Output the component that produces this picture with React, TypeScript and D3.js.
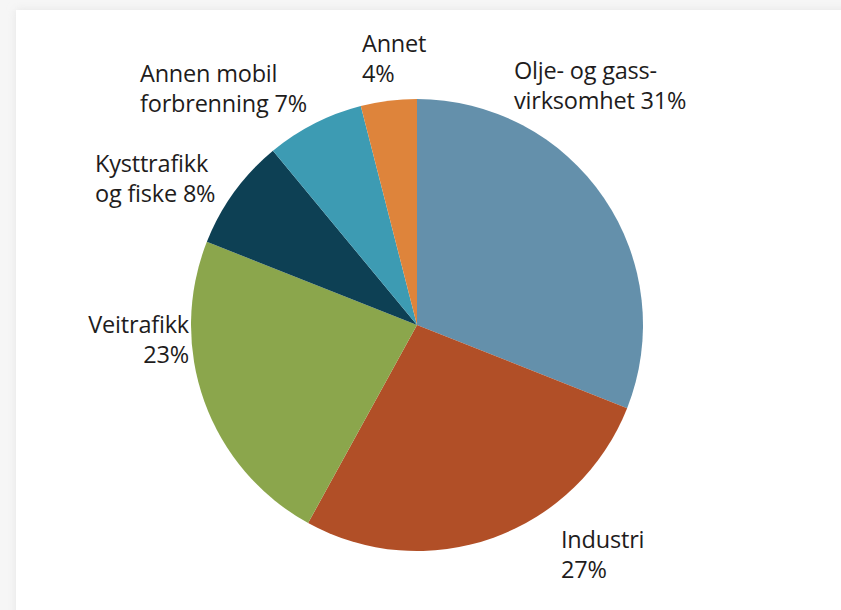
import React from "react";
import * as d3 from "d3";

// Kilder til utslipp (andel i prosent)
const categories = [
	"Olje- og gassvirksomhet",
	"Industri",
	"Veitrafikk",
	"Kysttrafikk og fiske",
	"Annen mobil forbrenning",
	"Annet",
];
const shares = [31, 27, 23, 8, 7, 4];
const colors = ["#6490ab", "#b14f27", "#8ba64c", "#0d4054", "#3d9bb3", "#de843b"];
const labelLines = [
	["Olje- og gass-", "virksomhet 31%"],
	["Industri", "27%"],
	["Veitrafikk", "23%"],
	["Kysttrafikk", "og fiske 8%"],
	["Annen mobil", "forbrenning 7%"],
	["Annet", "4%"],
];

// label placement (x, first baseline, anchor)
const labelLayout: [number, number, "start" | "end"][] = [
	[514, 79, "start"],
	[561, 548, "start"],
	[189, 333, "end"],
	[95, 172, "start"],
	[140, 82, "start"],
	[362, 52, "start"],
];

const W = 841;
const H = 610;
const cx = 417;
const cy = 325;
const radius = 226;
const lineHeight = 30;

export default function App() {
	const pie = d3
		.pie<number>()
		.sort(null)
		.value((d) => d);
	const arcs = pie(shares);
	const arc = d3.arc<d3.PieArcDatum<number>>().innerRadius(0).outerRadius(radius);

	return (
		<div style={{ position: "fixed", left: 0, top: 0 }}>
			<svg width={W} height={H} style={{ display: "block" }}>
				<defs>
					<filter id="shadow" x="-5%" y="-5%" width="110%" height="110%">
						<feGaussianBlur stdDeviation="4" />
					</filter>
				</defs>
				<rect width={W} height={H} fill="#f6f6f6" />
				<rect x={16} y={10} width={W} height={H} fill="#e4e4e4" filter="url(#shadow)" />
				<rect x={16} y={10} width={W} height={H} fill="#ffffff" />
				<g transform={`translate(${cx},${cy})`}>
					{arcs.map((a, i) => (
						<path key={categories[i]} d={arc(a) ?? ""} fill={colors[i]} />
					))}
				</g>
				<g
					fontFamily="'Open Sans', 'Noto Sans', sans-serif"
					fontSize={23.5}
					fill="#1e1c1c"
					letterSpacing={-0.2}
				>
					{labelLines.map((lines, i) => {
						const [x, y, anchor] = labelLayout[i];
						return (
							<text key={categories[i]} x={x} y={y} textAnchor={anchor}>
								{lines.map((line, j) => (
									<tspan key={j} x={x} y={y + j * lineHeight}>
										{line}
									</tspan>
								))}
							</text>
						);
					})}
				</g>
			</svg>
		</div>
	);
}
